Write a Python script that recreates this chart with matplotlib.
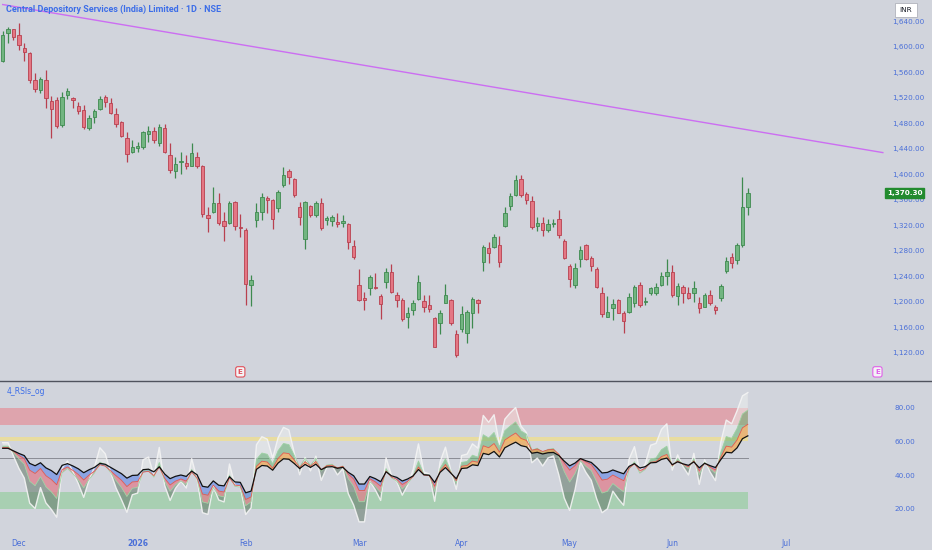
import numpy as np
import matplotlib
matplotlib.use("Agg")
import matplotlib.pyplot as plt
from matplotlib.lines import Line2D

# ---------------- data ----------------
opens = [1577,1622,1627,1618,1598,1590,1548,1532,1548,1515,1516,1477,1524,1519,1507,1501,1472,1490,1502,1521,
         1512,1494,1482,1457,1435,1441,1443,1463,1468,1449,1472,1430,1405,1419,1418,1413,1427,1413,1336,1341,
         1355,1326,1324,1357,1318,1313,1227,1328,1341,1363,1360,1347,1383,1405,1393,1349,1299,1350,1336,1355,
         1328,1327,1325,1324,1322,1288,1227,1206,1222,1224,1209,1231,1247,1210,1203,1176,1187,1205,1202,1195,
         1174,1167,1198,1203,1150,1157,1151,1183,1203,1263,1285,1286,1289,1319,1350,1368,1392,1369,1358,1319,
         1324,1313,1322,1330,1296,1256,1227,1267,1289,1269,1251,1214,1176,1190,1203,1183,1184,1198,1227,1200,
         1214,1214,1226,1240,1247,1209,1224,1214,1214,1198,1192,1211,1192,1206,1248,1270,1265,1289,1349]
highs = [1624,1630,1628,1637,1605,1591,1559,1552,1563,1523,1521,1529,1535,1521,1513,1508,1493,1502,1523,1524,
         1519,1503,1483,1466,1454,1450,1468,1476,1474,1479,1479,1449,1427,1435,1430,1449,1435,1415,1349,1380,
         1371,1341,1358,1358,1338,1315,1242,1355,1371,1366,1361,1375,1411,1408,1394,1356,1358,1352,1358,1363,
         1335,1336,1339,1336,1323,1297,1252,1216,1242,1246,1212,1253,1259,1216,1206,1192,1203,1242,1211,1211,
         1176,1188,1228,1205,1156,1194,1187,1208,1204,1289,1294,1306,1303,1349,1371,1399,1399,1372,1366,1333,
         1333,1330,1330,1344,1299,1259,1261,1288,1291,1272,1255,1223,1209,1205,1205,1186,1214,1227,1231,1208,
         1224,1230,1247,1267,1258,1230,1227,1223,1233,1208,1214,1219,1195,1228,1270,1276,1292,1396,1379]
lows = [1576,1605,1610,1594,1577,1543,1529,1527,1504,1457,1472,1474,1518,1504,1494,1471,1469,1480,1500,1505,
        1494,1474,1458,1419,1433,1435,1440,1450,1449,1444,1433,1402,1394,1400,1408,1413,1410,1333,1310,1339,
        1321,1296,1322,1313,1302,1195,1194,1317,1328,1339,1314,1341,1380,1385,1364,1321,1283,1333,1333,1313,
        1321,1319,1318,1317,1283,1267,1202,1188,1211,1220,1173,1222,1214,1192,1170,1159,1180,1203,1184,1184,
        1129,1150,1198,1164,1114,1153,1135,1159,1183,1249,1261,1284,1255,1317,1344,1366,1364,1353,1314,1311,
        1303,1310,1318,1300,1267,1223,1222,1255,1266,1249,1222,1176,1176,1172,1183,1151,1183,1192,1192,1195,
        1211,1211,1225,1226,1208,1195,1198,1204,1200,1183,1192,1195,1181,1201,1245,1253,1260,1286,1336]
closes = [1618,1628,1615,1602,1591,1548,1534,1549,1519,1502,1476,1521,1530,1516,1499,1474,1488,1499,1518,1513,
          1496,1478,1460,1432,1443,1444,1466,1468,1454,1474,1435,1407,1416,1421,1413,1433,1413,1338,1331,1355,
          1324,1319,1355,1319,1316,1228,1235,1341,1364,1360,1330,1372,1399,1396,1368,1333,1357,1336,1355,1316,
          1331,1333,1322,1327,1294,1270,1203,1203,1239,1222,1197,1247,1216,1203,1173,1183,1198,1231,1192,1189,
          1129,1183,1211,1167,1117,1181,1184,1205,1199,1286,1277,1302,1263,1339,1366,1391,1368,1360,1317,1324,
          1313,1322,1324,1305,1269,1236,1253,1281,1267,1256,1223,1181,1184,1197,1183,1170,1208,1223,1195,1202,
          1222,1224,1240,1247,1211,1225,1214,1206,1222,1190,1211,1198,1188,1225,1264,1261,1289,1349,1370.3]

price_ticks = [1120, 1160, 1200, 1240, 1280, 1320, 1360, 1400, 1440, 1480, 1520, 1560, 1600, 1640]
rsi_ticks = [20, 40, 60, 80]
month_labels = ["Dec", "2026", "Feb", "Mar", "Apr", "May", "Jun", "Jul"]
month_bars = [3, 25, 45, 66, 85, 105, 124, 145]
trend_bars = [0, 163]
trend_prices = [1665.9, 1433.9]
earnings_bars = [44, 162]
rsi_periods = [5, 9, 14, 21]
last_price = 1370.30
title = "Central Depository Services (India) Limited · 1D · NSE"
ind_title = "4_RSIs_og"

# ---------------- helpers ----------------
o = np.array(opens, float); h = np.array(highs, float)
l = np.array(lows, float); c = np.array(closes, float)
idx = np.arange(len(c))

def rsi(close, n):
    d = np.diff(close)
    seed = np.mean(np.abs(d)) / 2.0
    ag = seed * 1.1
    al = seed * 0.9
    out = [50.0 + 5.0]
    for v in d:
        ag = (ag * (n - 1) + max(v, 0)) / n
        al = (al * (n - 1) + max(-v, 0)) / n
        out.append(100 * ag / (ag + al))
    out[0] = out[1]
    return np.array(out)

BG = "#d1d4dc"
BLUE = "#4a6fd8"
W, H = 932, 550
fig = plt.figure(figsize=(W / 100, H / 100), dpi=100, facecolor=BG)
ax = fig.add_axes([0, 1 - 381 / H, 885 / W, 381 / H])
ax2 = fig.add_axes([0, (H - 532) / H, 885 / W, (532 - 382) / H])
for a in (ax, ax2):
    a.set_facecolor(BG)
    for s in a.spines.values():
        s.set_visible(False)
    a.set_xlim(-0.5, 163.4)

ax.set_ylim(1076, 1673)
ax2.set_ylim(6.0, 95.5)

# ---------------- candles ----------------
up = c >= o
body_col = np.where(up, "#72b581", "#e47784")
edge_col = np.where(up, "#3e8a4f", "#b8404f")
ax.vlines(idx, l, h, colors=edge_col, linewidth=0.9, zorder=2)
bottoms = np.minimum(o, c)
heights = np.maximum(np.abs(c - o), 1.2)
ax.bar(idx, heights, bottom=bottoms, width=0.62, color=body_col, edgecolor=edge_col,
       linewidth=0.6, zorder=3)

# trend line
ax.plot(trend_bars, trend_prices, color="#cc6ef2", linewidth=1.0, zorder=1)

# price axis
ax.yaxis.tick_right()
ax.set_yticks(price_ticks)
ax.set_yticklabels([f"{p:,.2f}" for p in price_ticks])
ax.tick_params(axis="y", length=0, pad=5, labelsize=5.2, labelcolor=BLUE)
ax.set_xticks([])

ax.text(1.002, last_price, f"{last_price:,.2f}", transform=ax.get_yaxis_transform(),
        ha="left", va="center", fontsize=5.2, color="white", fontweight="bold",
        bbox=dict(boxstyle="square,pad=0.25", fc="#228b2e", ec="#228b2e"), zorder=10,
        clip_on=False)

ax.text(0.007, 0.975, title, transform=ax.transAxes, ha="left", va="center",
        fontsize=6.5, color="#3d6ee8", fontweight="bold", family="Roboto")

# earnings markers
for b, col in zip(earnings_bars, ["#e0505a", "#e060e8"]):
    ax.text(b, 0.024, "E", transform=ax.get_xaxis_transform(), ha="center", va="center",
            fontsize=5.2, color=col, fontweight="bold",
            bbox=dict(boxstyle="round,pad=0.3", fc="#f4f4f6", ec=col, lw=0.8), zorder=10)

# INR box
fig.text(906 / W, 1 - 10 / H, "INR", ha="center", va="center", fontsize=5.2, color="#131722",
         bbox=dict(boxstyle="square,pad=0.6", fc="white", ec="#b0b3bb", lw=0.6))

# separator
fig.add_artist(Line2D([0, 1], [1 - 381 / H, 1 - 381 / H], color="#50535e", linewidth=1.0))

# ---------------- RSI pane ----------------
r1, r2, r3, r4 = [rsi(c, n) for n in rsi_periods]
xb = np.array([-0.5, idx[-1] + 0.0])
ax2.fill_between(xb, 70, 80, color="#dea4ad", zorder=1, lw=0)
ax2.fill_between(xb, 20, 30, color="#a8cfb2", zorder=1, lw=0)
ax2.fill_between(xb, 60, 62.5, color="#e8dca0", zorder=1, lw=0)
ax2.plot(xb, [50, 50], color="#8a8c94", lw=0.7, zorder=1)

kw = dict(interpolate=True, lw=0, zorder=2)
ax2.fill_between(idx, r1, r2, where=r1 >= r2, color="#eef0ee", alpha=0.5, **kw)
ax2.fill_between(idx, r1, r2, where=r1 < r2, color="#6a7f70", alpha=0.6, **kw)
ax2.fill_between(idx, r2, r3, where=r2 >= r3, color="#6ab574", alpha=0.55, **kw)
ax2.fill_between(idx, r2, r3, where=r2 < r3, color="#e27a88", alpha=0.7, **kw)
ax2.fill_between(idx, r3, r4, where=r3 >= r4, color="#f2a94e", alpha=0.7, **kw)
ax2.fill_between(idx, r3, r4, where=r3 < r4, color="#7594e6", alpha=0.75, **kw)
ax2.plot(idx, r1, color="#f4f4f4", lw=1.0, alpha=0.9, zorder=3)
ax2.plot(idx, r2, color="#9ed2a4", lw=0.6, zorder=3)
ax2.plot(idx, r3, color="#e05a50", lw=0.6, zorder=3)
ax2.plot(idx, r4, color="#111111", lw=0.9, zorder=4)

ax2.yaxis.tick_right()
ax2.set_yticks(rsi_ticks)
ax2.set_yticklabels([f"{v:.2f}" for v in rsi_ticks])
ax2.tick_params(axis="y", length=0, pad=7, labelsize=5.2, labelcolor=BLUE)
ax2.set_xticks(month_bars)
ax2.set_xticklabels(month_labels)
ax2.tick_params(axis="x", length=0, pad=5, labelsize=5.5, labelcolor=BLUE)
for t in ax2.get_xticklabels():
    if t.get_text() == "2026":
        t.set_fontweight("bold")

ax2.text(0.007, 0.94, ind_title, transform=ax2.transAxes, ha="left", va="center",
         fontsize=5.5, color="#3d6ee8")

fig.savefig("out.png", dpi=100, facecolor=BG)
